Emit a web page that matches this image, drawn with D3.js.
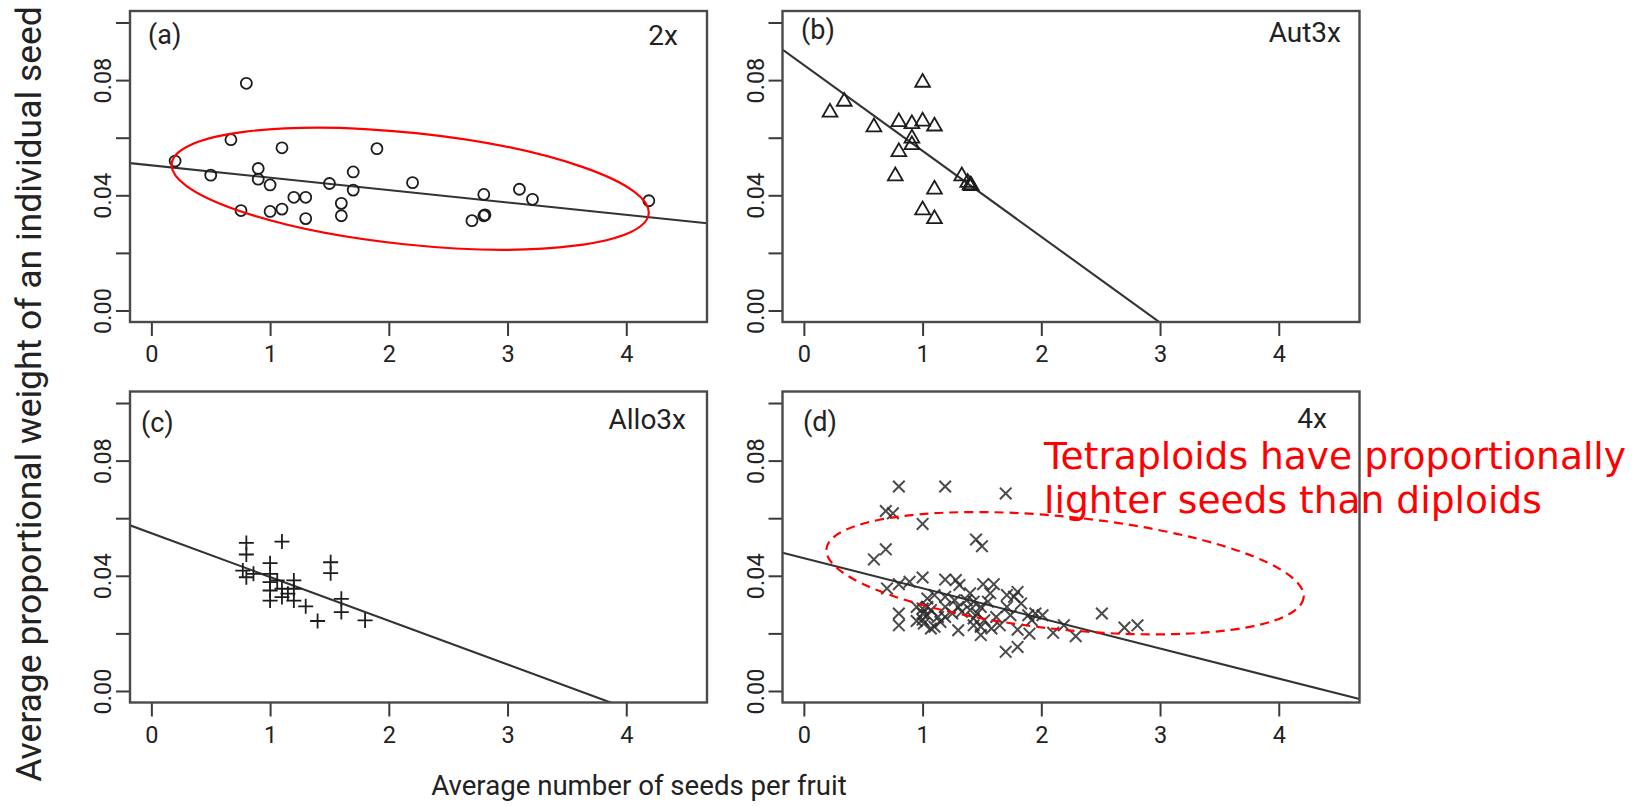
<!DOCTYPE html>
<html><head><meta charset="utf-8">
<script src="https://cdn.jsdelivr.net/npm/d3@7/dist/d3.min.js"></script>
<style>html,body{margin:0;padding:0;background:#fff;} svg{display:block;}</style>
</head><body>
<svg id="chart" width="1648" height="807"></svg>
<script>
// ---------- data ----------
const xTicks = [0, 1, 2, 3, 4];
const yTicks = [0, 0.02, 0.04, 0.06, 0.08, 0.10];
const yTickLabels = ["0.00", "", "0.04", "", "0.08", ""];
const panelTags = ["(a)", "(b)", "(c)", "(d)"];
const panelNames = ["2x", "Aut3x", "Allo3x", "4x"];
const xTitle = "Average number of seeds per fruit";
const yTitle = "Average proportional weight of an individual seed";
const noteLines = ["Tetraploids have proportionally", "lighter seeds than diploids"];

const diploidX = [0.20,0.50,0.67,0.80,0.755,0.90,0.90,1.00,1.00,1.10,1.10,1.20,1.30,1.30,1.50,1.60,1.60,1.70,1.70,1.90,2.20,2.70,2.80,2.80,2.81,3.10,3.21,4.19];
const diploidY = [0.0519,0.0470,0.0593,0.0789,0.0347,0.0493,0.0456,0.0436,0.0344,0.0565,0.0352,0.0393,0.0393,0.0319,0.0441,0.0372,0.0329,0.0481,0.0418,0.0562,0.0444,0.0312,0.0403,0.0329,0.0332,0.0421,0.0386,0.0381];

const aut3xX = [0.22,0.34,0.59,0.80,0.91,1.00,1.00,1.10,0.91,0.91,0.80,0.77,1.10,1.00,1.10,1.33,1.40,1.41,1.38];
const aut3xY = [0.0689,0.0727,0.0638,0.0656,0.0649,0.0793,0.0658,0.0641,0.0599,0.0576,0.0552,0.0468,0.0422,0.0350,0.0319,0.0468,0.0437,0.0434,0.0445];

const allo3xX = [0.80,0.80,1.10,1.00,0.77,0.80,0.86,1.00,1.00,1.00,1.00,1.06,1.10,1.10,1.20,1.20,1.20,1.15,1.30,1.40,1.51,1.51,1.60,1.60,1.80];
const allo3xY = [0.0514,0.0474,0.0519,0.0444,0.0418,0.0395,0.0407,0.0407,0.0378,0.0349,0.0314,0.0384,0.0355,0.0326,0.0384,0.0355,0.0314,0.0338,0.0294,0.0243,0.0447,0.0409,0.0320,0.0274,0.0245];

const tetraX = [0.80,1.19,1.70,0.69,0.75,1.00,1.45,1.50,0.69,0.59,
  1.00,0.89,0.80,0.70,1.19,1.28,1.31,1.51,1.60,1.80,1.77,1.10,1.04,1.40,1.37,1.71,1.71,1.49,1.55,1.30,
  1.19,1.00,1.00,1.00,1.04,1.07,1.10,1.19,1.15,0.80,0.80,1.30,1.40,1.43,1.49,1.49,1.58,1.62,1.74,1.80,
  1.90,1.95,2.01,2.10,2.29,2.51,2.70,2.81,1.70,1.80,0.95,1.01,1.07,1.25,1.33,1.43,1.57,1.83,1.89,1.19,
  1.27,0.95,1.04,1.13,1.46,1.52,1.43,1.65,2.19,1.92];
const tetraY = [0.0710,0.0710,0.0686,0.0625,0.0617,0.0580,0.0526,0.0503,0.0492,0.0457,
  0.0394,0.0379,0.0371,0.0356,0.0387,0.0385,0.0368,0.0371,0.0371,0.0344,0.0327,0.0333,0.0321,0.0339,0.0315,0.0333,0.0292,0.0292,0.0310,0.0292,
  0.0292,0.0286,0.0269,0.0248,0.0263,0.0281,0.0223,0.0257,0.0240,0.0269,0.0228,0.0211,0.0281,0.0252,0.0223,0.0194,0.0217,0.0257,0.0263,0.0213,
  0.0199,0.0269,0.0263,0.0202,0.0190,0.0269,0.0220,0.0228,0.0136,0.0153,0.0243,0.0234,0.0217,0.0269,0.0275,0.0310,0.0339,0.0304,0.0263,0.0327,
  0.0315,0.0292,0.0292,0.0257,0.0269,0.0246,0.0228,0.0228,0.0228,0.0246];

const seriesX = [diploidX, aut3xX, allo3xX, tetraX];
const seriesY = [diploidY, aut3xY, allo3xY, tetraY];
const markerKinds = ["circle", "triangle", "plus", "cross"];

const fitIntercept = [0.0504, 0.0852, 0.0548, 0.0461];
const fitSlope = [-0.0043, -0.0298, -0.0152, -0.01045];

// highlight ellipses (data-unit centre and semi-axes), panels a and d
const ellipsePanel = [0, 3];
const ellipseCx = [2.18, 2.20];
const ellipseCy = [0.0423, 0.0409];
const ellipseRx = [2.02, 2.02];
const ellipseRy = [0.0194, 0.0196];
const ellipseAngle = [6.0, 5.8];
const ellipseDashed = [false, true];

// ---------- layout ----------
const svg = d3.select("#chart");
const panelLeft = [130, 782.5, 130, 782.5];
const panelTop = [11, 11, 391.5, 391.5];
const PW = 577, PH = 311;
const xDomain = [-0.18, 4.68], yDomain = [-0.004, 0.104];
const tagPos = [[148, 44], [801, 39], [141, 432], [803, 431]];
const namePos = [[678, 45], [1341, 42], [686, 429], [1327, 428]];
const uiFont = "Roboto, 'Open Sans', sans-serif";
const ink = "#1c1c1c";

// annotation (drawn beneath the frames)
const note = svg.append("g");
noteLines.forEach((t, i) => {
  note.append("text").attr("x", 1044).attr("y", [469, 513][i])
    .attr("font-family", "'DejaVu Sans', Verdana, sans-serif")
    .attr("font-size", 37.6).attr("fill", "#ff0000").text(t);
});

const defs = svg.append("defs");

function markerPath(kind) {
  if (kind === "triangle") return "M0,-8.2L7.4,4.6L-7.4,4.6Z";
  if (kind === "plus") return "M-7.5,0H7.5M0,-7.5V7.5";
  if (kind === "cross") return "M-5.8,-5.8L5.8,5.8M-5.8,5.8L5.8,-5.8";
  return null;
}

function fit(sel, target) {
  const w = sel.node().getComputedTextLength();
  const fs = parseFloat(sel.attr("font-size"));
  if (w > 0) sel.attr("font-size", fs * target / w);
}

for (let p = 0; p < 4; p++) {
  const L = panelLeft[p], T = panelTop[p];
  const x = d3.scaleLinear().domain(xDomain).range([L, L + PW]);
  const y = d3.scaleLinear().domain(yDomain).range([T + PH, T]);
  const g = svg.append("g");

  defs.append("clipPath").attr("id", "clip" + p)
    .append("rect").attr("x", L).attr("y", T).attr("width", PW).attr("height", PH);

  // axes
  const xAxis = d3.axisBottom(x).tickValues(xTicks).tickFormat(d3.format("d")).tickSize(14).tickPadding(6);
  const gx = g.append("g").attr("transform", `translate(0,${T + PH})`).call(xAxis);
  const yAxis = d3.axisLeft(y).tickValues(yTicks).tickFormat((d, i) => yTickLabels[i]).tickSize(14).tickPadding(0);
  const gy = g.append("g").attr("transform", `translate(${L},0)`).call(yAxis);
  [gx, gy].forEach(a => {
    a.select(".domain").remove();
    a.selectAll(".tick line").attr("stroke", "#3a3a3a").attr("stroke-width", 2);
    a.selectAll(".tick text").attr("font-family", uiFont).attr("font-size", 23.5).attr("fill", "#222");
  });
  gx.selectAll(".tick text").attr("y", 0).attr("dy", 0).attr("transform", "translate(0,40)");
  gy.selectAll(".tick text").attr("x", 0).attr("dy", 0)
    .attr("text-anchor", "middle")
    .attr("transform", "translate(-19,0) rotate(-90)");

  // regression line
  g.append("line").attr("clip-path", `url(#clip${p})`)
    .attr("x1", x(xDomain[0])).attr("y1", y(fitIntercept[p] + fitSlope[p] * xDomain[0]))
    .attr("x2", x(xDomain[1])).attr("y2", y(fitIntercept[p] + fitSlope[p] * xDomain[1]))
    .attr("stroke", "#333").attr("stroke-width", 2.1);

  // points
  const pts = seriesX[p].map((v, i) => [v, seriesY[p][i]]);
  const kind = markerKinds[p];
  const mk = g.append("g").attr("clip-path", `url(#clip${p})`);
  if (kind === "circle") {
    mk.selectAll("circle").data(pts).join("circle")
      .attr("cx", d => x(d[0])).attr("cy", d => y(d[1])).attr("r", 5.5)
      .attr("fill", "none").attr("stroke", ink).attr("stroke-width", 1.8);
  } else {
    mk.selectAll("path").data(pts).join("path")
      .attr("transform", d => `translate(${x(d[0])},${y(d[1])})`)
      .attr("d", markerPath(kind))
      .attr("fill", "none").attr("stroke", kind === "cross" ? "#2b2b2b" : ink)
      .attr("stroke-opacity", kind === "cross" ? 0.85 : 1)
      .attr("stroke-width", kind === "cross" ? 2 : 1.8);
  }

  // ellipse highlight
  const ei = ellipsePanel.indexOf(p);
  if (ei >= 0) {
    const cx = x(ellipseCx[ei]), cy = y(ellipseCy[ei]);
    const rx = x(ellipseRx[ei]) - x(0), ry = y(0) - y(ellipseRy[ei]);
    const el = g.append("ellipse").attr("cx", 0).attr("cy", 0).attr("rx", rx).attr("ry", ry)
      .attr("transform", `translate(${cx},${cy}) rotate(${ellipseAngle[ei]})`)
      .attr("fill", "none").attr("stroke", "#ff0000").attr("stroke-width", 2.2);
    if (ellipseDashed[ei]) el.attr("stroke-dasharray", "9,6");
  }

  // frame
  g.append("rect").attr("x", L).attr("y", T).attr("width", PW).attr("height", PH)
    .attr("fill", "none").attr("stroke", "#4a4a4a").attr("stroke-width", 2.4);

  // panel tag and name
  g.append("text").attr("x", tagPos[p][0]).attr("y", tagPos[p][1])
    .attr("font-family", uiFont).attr("font-size", 27).attr("fill", "#222").text(panelTags[p]);
  g.append("text").attr("x", namePos[p][0]).attr("y", namePos[p][1]).attr("text-anchor", "end")
    .attr("font-family", uiFont).attr("font-size", 28).attr("fill", "#222").text(panelNames[p]);
}

// axis titles
const xt = svg.append("text").attr("x", 639).attr("y", 795).attr("text-anchor", "middle")
  .attr("font-family", uiFont).attr("font-size", 26).attr("fill", "#222").text(xTitle);
fit(xt, 416);
const yt = svg.append("text").attr("transform", "translate(41,394) rotate(-90)").attr("text-anchor", "middle")
  .attr("font-family", uiFont).attr("font-size", 30).attr("fill", "#222").text(yTitle);
fit(yt, 776);
</script>
</body></html>
